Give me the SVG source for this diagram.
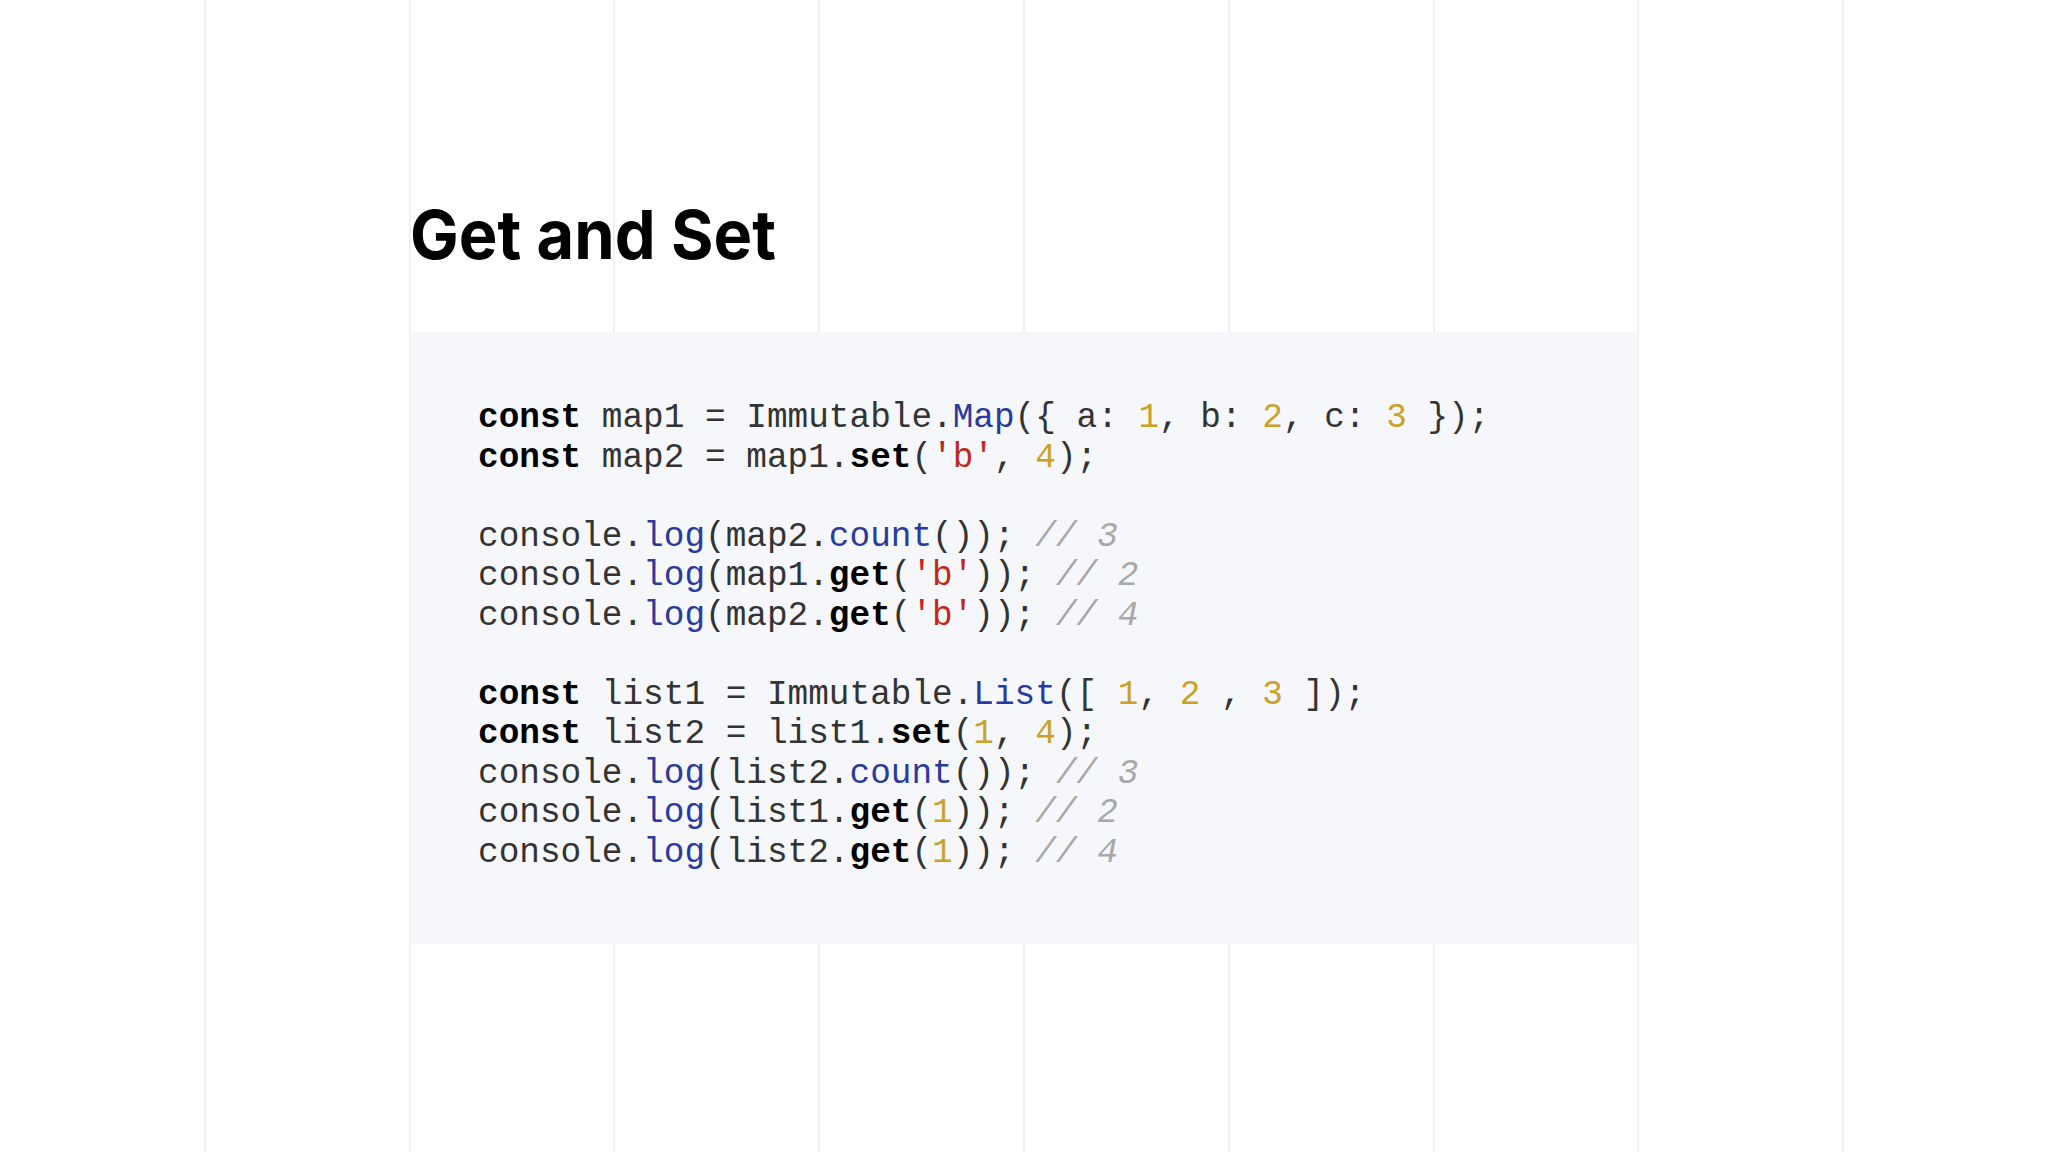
<svg xmlns="http://www.w3.org/2000/svg" width="2048" height="1152" viewBox="0 0 2048 1152">
<style>
.g{stroke:#ededed;stroke-width:1.5}
.c{font-family:"Liberation Mono","Courier New",monospace;font-size:34.4px;fill:#333}
.k{font-weight:bold;fill:#000}
.f{fill:#2a3a9e}
.n{fill:#c9a227}
.s{fill:#c4261a}
.m{fill:#a8a8a8;font-style:italic}
</style>
<rect width="2048" height="1152" fill="#fff"/>
<g id="grid">
<line class="g" x1="205" y1="0" x2="205" y2="1152"/>
<line class="g" x1="410" y1="0" x2="410" y2="1152"/>
<line class="g" x1="614" y1="0" x2="614" y2="1152"/>
<line class="g" x1="819" y1="0" x2="819" y2="1152"/>
<line class="g" x1="1024" y1="0" x2="1024" y2="1152"/>
<line class="g" x1="1229" y1="0" x2="1229" y2="1152"/>
<line class="g" x1="1434" y1="0" x2="1434" y2="1152"/>
<line class="g" x1="1638" y1="0" x2="1638" y2="1152"/>
<line class="g" x1="1843" y1="0" x2="1843" y2="1152"/>
</g>
<g id="title"><text x="410" y="259" font-family="Inter, Lato, sans-serif" font-weight="bold" font-size="68" fill="#000" textLength="366" lengthAdjust="spacingAndGlyphs">Get and Set</text></g>
<g id="code">
<rect x="410" y="332" width="1228" height="612" fill="#f6f7fb"/>
<text class="c" xml:space="preserve">
<tspan x="478" y="427"><tspan class="k">const</tspan> map1 = Immutable.<tspan class="f">Map</tspan>({ a: <tspan class="n">1</tspan>, b: <tspan class="n">2</tspan>, c: <tspan class="n">3</tspan> });</tspan>
<tspan x="478" y="466.5"><tspan class="k">const</tspan> map2 = map1.<tspan class="k">set</tspan>(<tspan class="s">'b'</tspan>, <tspan class="n">4</tspan>);</tspan>
<tspan x="478" y="545.5">console.<tspan class="f">log</tspan>(map2.<tspan class="f">count</tspan>()); <tspan class="m">// 3</tspan></tspan>
<tspan x="478" y="585">console.<tspan class="f">log</tspan>(map1.<tspan class="k">get</tspan>(<tspan class="s">'b'</tspan>)); <tspan class="m">// 2</tspan></tspan>
<tspan x="478" y="624.5">console.<tspan class="f">log</tspan>(map2.<tspan class="k">get</tspan>(<tspan class="s">'b'</tspan>)); <tspan class="m">// 4</tspan></tspan>
<tspan x="478" y="703.5"><tspan class="k">const</tspan> list1 = Immutable.<tspan class="f">List</tspan>([ <tspan class="n">1</tspan>, <tspan class="n">2</tspan> , <tspan class="n">3</tspan> ]);</tspan>
<tspan x="478" y="743"><tspan class="k">const</tspan> list2 = list1.<tspan class="k">set</tspan>(<tspan class="n">1</tspan>, <tspan class="n">4</tspan>);</tspan>
<tspan x="478" y="782.5">console.<tspan class="f">log</tspan>(list2.<tspan class="f">count</tspan>()); <tspan class="m">// 3</tspan></tspan>
<tspan x="478" y="822">console.<tspan class="f">log</tspan>(list1.<tspan class="k">get</tspan>(<tspan class="n">1</tspan>)); <tspan class="m">// 2</tspan></tspan>
<tspan x="478" y="861.5">console.<tspan class="f">log</tspan>(list2.<tspan class="k">get</tspan>(<tspan class="n">1</tspan>)); <tspan class="m">// 4</tspan></tspan>
</text>
</g>
</svg>
